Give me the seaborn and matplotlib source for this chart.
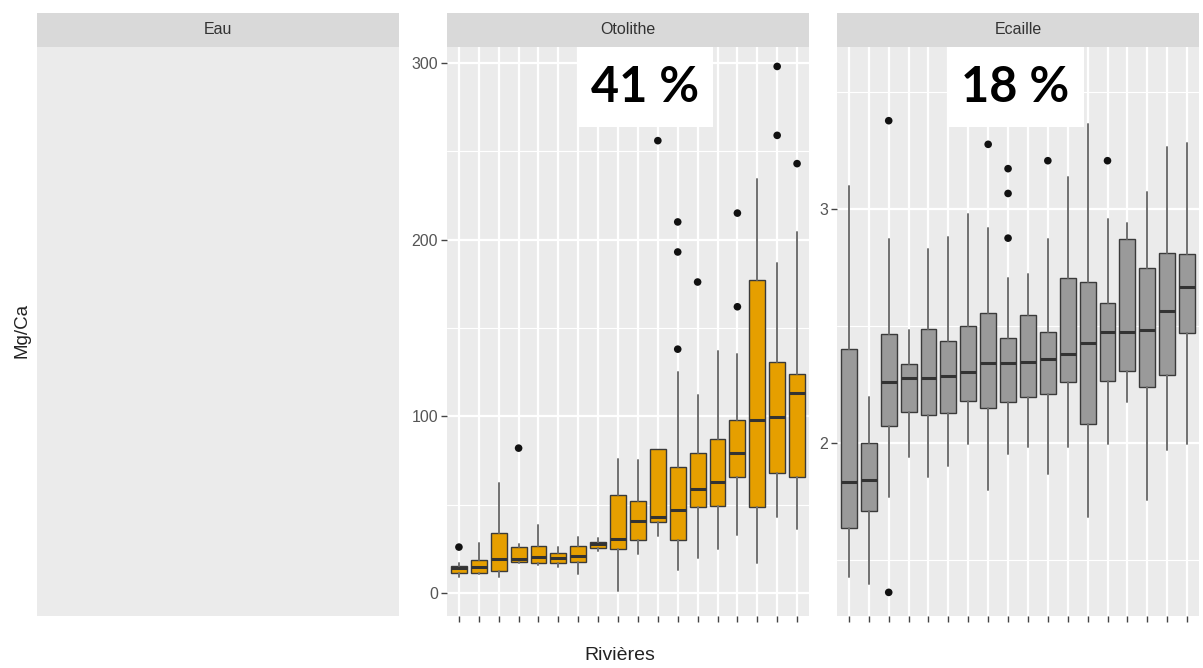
import numpy as np
import pandas as pd
import matplotlib
matplotlib.use("Agg")
import matplotlib.pyplot as plt
from matplotlib.ticker import MultipleLocator, FixedLocator
from matplotlib.patches import Rectangle
import seaborn as sns

# river names are not shown on the chart (blank tick labels)
rivers = ["R01", "R02", "R03", "R04", "R05", "R06", "R07", "R08", "R09",
          "R10", "R11", "R12", "R13", "R14", "R15", "R16", "R17", "R18"]

# Otolithe (Mg/Ca) box stats
oto_whislo = [9, 11, 9, 17, 16, 15, 11, 24, 1, 22, 32, 13, 20, 25, 33, 17, 43, 36]
oto_q1 = [11.5, 11.5, 12.6, 17.7, 16.8, 17.2, 17.7, 25.3, 24.7, 30, 40.4, 30, 48.8, 49.4, 65.8, 48.8, 67.7, 65.8]
oto_med = [14, 14.5, 19.4, 19, 20.2, 19.8, 21.1, 27.6, 30.7, 41, 43.2, 47, 58.7, 63, 79.4, 97.9, 99.8, 113]
oto_q3 = [15.5, 18.7, 33.8, 25.9, 26.6, 22.8, 26.6, 29, 55.3, 52, 81.3, 71.1, 79.4, 87.3, 97.9, 177.1, 130.6, 123.8]
oto_whishi = [17, 28.5, 62, 28, 38.5, 25.9, 31.9, 31, 75.7, 75.3, 81.3, 125.2, 112, 137.1, 135.3, 234.1, 186.6, 204.1]
oto_out_river = [0, 3, 10, 11, 11, 11, 12, 14, 14, 16, 16, 17]
oto_out_val = [26, 82, 256, 138, 193, 210, 176, 162, 215, 259, 298, 243]

# Ecaille (Mg/Ca) box stats
eca_whislo = [1.43, 1.40, 1.77, 1.943, 1.857, 1.903, 1.996, 1.80, 1.954, 1.983, 1.868, 1.983, 1.686, 1.996, 2.178, 1.758, 1.971, 1.996]
eca_q1 = [1.639, 1.711, 2.075, 2.135, 2.121, 2.131, 2.182, 2.152, 2.175, 2.197, 2.211, 2.263, 2.083, 2.268, 2.31, 2.239, 2.292, 2.47]
eca_med = [1.836, 1.843, 2.261, 2.278, 2.278, 2.289, 2.306, 2.342, 2.342, 2.346, 2.359, 2.382, 2.427, 2.474, 2.474, 2.484, 2.567, 2.667]
eca_q3 = [2.403, 2.0, 2.467, 2.339, 2.488, 2.437, 2.503, 2.556, 2.449, 2.548, 2.477, 2.705, 2.691, 2.598, 2.872, 2.75, 2.815, 2.808]
eca_whishi = [3.10, 2.199, 2.872, 2.484, 2.832, 2.880, 2.979, 2.921, 2.705, 2.722, 2.873, 3.139, 3.365, 2.959, 2.943, 3.075, 3.268, 3.285]
eca_out_river = [2, 2, 7, 8, 8, 8, 10, 13]
eca_out_val = [3.379, 1.363, 3.278, 3.174, 3.068, 2.877, 3.208, 3.208]

facets = ["Eau", "Otolithe", "Ecaille"]
pct_labels = {"Otolithe": "41 %", "Ecaille": "18 %"}

sns.set_theme(style="darkgrid", rc={"axes.facecolor": "#EBEBEB", "grid.color": "white"})
plt.rcParams["font.family"] = ["Liberation Sans", "DejaVu Sans"]

W, H = 1203, 668
fig = plt.figure(figsize=(W / 100, H / 100), dpi=100)
fig.patch.set_facecolor("white")

panel_left = {"Eau": 37, "Otolithe": 447, "Ecaille": 837}
panel_w = 362
top, bottom, strip_top = 47, 616, 13


def make_stats(lo, q1, med, q3, hi):
    return [dict(whislo=a, q1=b, med=c, q3=d, whishi=e, fliers=[])
            for a, b, c, d, e in zip(lo, q1, med, q3, hi)]


axes = {}
for name in facets:
    x0 = panel_left[name]
    ax = fig.add_axes([x0 / W, (H - bottom) / H, panel_w / W, (bottom - top) / H])
    sax = fig.add_axes([x0 / W, (H - top) / H, panel_w / W, (top - strip_top) / H])
    sax.set_facecolor("#D9D9D9")
    sax.set_xticks([]); sax.set_yticks([])
    sax.grid(False)
    for s in sax.spines.values():
        s.set_visible(False)
    sax.text(0.5, 0.5, name, ha="center", va="center", fontsize=11.5, color="#333333")
    for s in ax.spines.values():
        s.set_visible(False)
    ax.set_facecolor("#EBEBEB")
    axes[name] = ax

axes["Eau"].set_xticks([]); axes["Eau"].set_yticks([])
axes["Eau"].grid(False)

box_cfg = {
    "Otolithe": (make_stats(oto_whislo, oto_q1, oto_med, oto_q3, oto_whishi),
                 oto_out_river, oto_out_val, "#E69F00", (-13.0, 309.0), 100, 50),
    "Ecaille": (make_stats(eca_whislo, eca_q1, eca_med, eca_q3, eca_whishi),
                eca_out_river, eca_out_val, "#9A9A9A", (1.262, 3.694), 1, 0.5),
}

for name, (stats, out_r, out_v, fill, ylim, major, minor) in box_cfg.items():
    ax = axes[name]
    pos = np.arange(len(rivers))
    ax.grid(which="major", color="white", linewidth=1.6, zorder=0)
    ax.yaxis.set_major_locator(MultipleLocator(major))
    ax.yaxis.set_minor_locator(MultipleLocator(minor))
    ax.grid(which="minor", axis="y", color="white", linewidth=0.8, zorder=0)
    ax.set_axisbelow(True)
    ax.bxp(stats, positions=pos, widths=0.8, patch_artist=True, showfliers=False,
           showcaps=False,
           boxprops=dict(facecolor=fill, edgecolor="#3a3a3a", linewidth=1.0),
           medianprops=dict(color="#333333", linewidth=2.2),
           whiskerprops=dict(color="#707070", linewidth=1.4),
           manage_ticks=False, zorder=3)
    outl = pd.DataFrame({"x": out_r, "y": out_v})
    sns.scatterplot(data=outl, x="x", y="y", ax=ax, color="#111111", s=30,
                    edgecolor="none", legend=False, zorder=4)
    ax.set_xlim(-0.6, len(rivers) - 0.4)
    ax.set_ylim(*ylim)
    ax.xaxis.set_major_locator(FixedLocator(pos))
    ax.set_xticklabels([""] * len(rivers))
    ax.set_xlabel(""); ax.set_ylabel("")
    ax.tick_params(axis="both", which="major", length=4.5, width=1.0, color="#444444",
                   labelsize=11.5, labelcolor="#555555", pad=2, bottom=True, left=True)
    ax.tick_params(which="minor", length=0)

    # white box with percentage
    if name == "Otolithe":
        rx0, rx1, tx = 0.362, 0.735, 0.547
    else:
        rx0, rx1, tx = 0.307, 0.681, 0.493
    ax.add_patch(Rectangle((rx0, 0.859), rx1 - rx0, 0.141, transform=ax.transAxes,
                           facecolor="white", edgecolor="none", zorder=2))
    ax.text(tx, 0.928, pct_labels[name], transform=ax.transAxes, ha="center", va="center",
            fontsize=35, fontweight="bold", family=["Lato", "DejaVu Sans"],
            color="black", zorder=5)

fig.text(22 / W, 1 - 330 / H, "Mg/Ca", rotation=90, ha="center", va="center",
         fontsize=13.5, color="#222222")
fig.text(620 / W, 1 - 656 / H, "Rivières", ha="center", va="center",
         fontsize=14, color="#222222")

fig.savefig("out.png", dpi=100)
